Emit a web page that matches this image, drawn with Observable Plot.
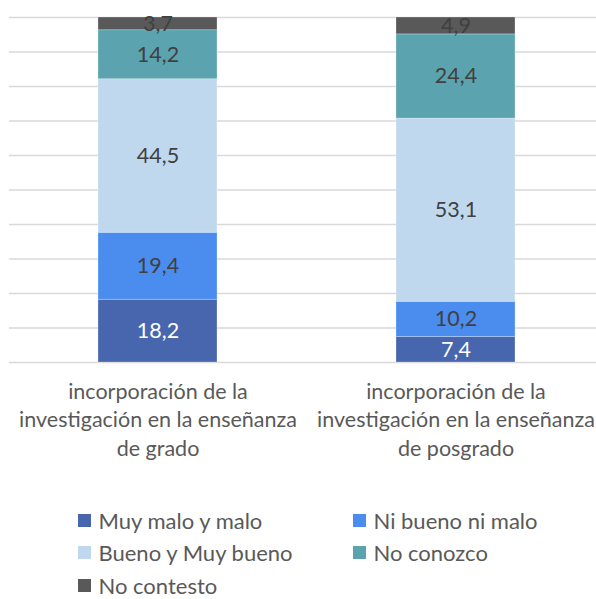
<!DOCTYPE html>
<html>
<head>
<meta charset="utf-8">
<script src="https://cdn.jsdelivr.net/npm/d3@7"></script>
<script src="https://cdn.jsdelivr.net/npm/@observablehq/plot@0.6"></script>
<style>
  html, body { margin: 0; padding: 0; background: #fff; }
  #chart { position: relative; width: 596px; height: 599px; font-family: Lato, "Open Sans", sans-serif; }
  .legend { display: grid; grid-template-columns: 275px auto; grid-auto-rows: 22px; row-gap: 10.5px; padding-left: 78px; padding-top: 29px; color: #595959; font-size: 22px; }
  .legend .item { display: flex; align-items: center; white-space: nowrap; height: 22px; }
  .legend .sw { width: 13px; height: 13px; margin-right: 7.5px; flex: none; }
  .legend .tx { line-height: 17px; }
</style>
</head>
<body>
<div id="chart"></div>
<script>
const categories = [
  "incorporación de la\ninvestigación en la enseñanza\nde grado",
  "incorporación de la\ninvestigación en la enseñanza\nde posgrado"
];
const series = ["Muy malo y malo", "Ni bueno ni malo", "Bueno y Muy bueno", "No conozco", "No contesto"];
const grado = [18.2, 19.4, 44.5, 14.2, 3.7];
const posgrado = [7.4, 10.2, 53.1, 24.4, 4.9];
const colors = ["#4866AD", "#4A8DEF", "#C0D8EE", "#5BA3AE", "#595959"];
const yTicks = [0, 10, 20, 30, 40, 50, 60, 70, 80, 90, 100];

const data = [];
[grado, posgrado].forEach((vals, ci) => {
  vals.forEach((v, si) => data.push({cat: categories[ci], series: series[si], value: v}));
});

const fmt = d => d.toFixed(1).replace(".", ",");

const plot = Plot.plot({
  width: 596,
  height: 480,
  marginTop: 17,
  marginBottom: 118,
  marginLeft: 9,
  marginRight: 0,
  style: {fontFamily: "Lato, 'Open Sans', sans-serif", background: "transparent"},
  x: {domain: categories, range: [8.6, 605.4], paddingInner: 0.6, paddingOuter: 0.3, label: null},
  y: {domain: [0, 100], label: null, axis: null},
  color: {domain: series, range: colors},
  marks: [
    Plot.ruleY(yTicks, {stroke: "#D9D9D9", strokeWidth: 1.3}),
    Plot.barY(data, {x: "cat", y: "value", fill: "series", order: series, stroke: "white", strokeOpacity: 0.35, strokeWidth: 0.75}),
    Plot.text(data, Plot.stackY({x: "cat", y: "value", order: series, text: d => fmt(d.value),
      fill: d => d.series === "Muy malo y malo" ? "white" : "#404040", fontSize: 21.5})),
    Plot.axisX({tickSize: 0, tickPadding: 16, fontSize: 21.5, lineHeight: 1.33, fill: "#595959", label: null})
  ]
});

const chart = document.getElementById("chart");
chart.appendChild(plot);

const legend = document.createElement("div");
legend.className = "legend";
series.forEach((s, i) => {
  const it = document.createElement("div");
  it.className = "item";
  const sw = document.createElement("span");
  sw.className = "sw";
  sw.style.background = colors[i];
  const tx = document.createElement("span");
  tx.className = "tx";
  tx.textContent = s;
  it.appendChild(sw);
  it.appendChild(tx);
  legend.appendChild(it);
});
chart.appendChild(legend);
</script>
</body>
</html>
